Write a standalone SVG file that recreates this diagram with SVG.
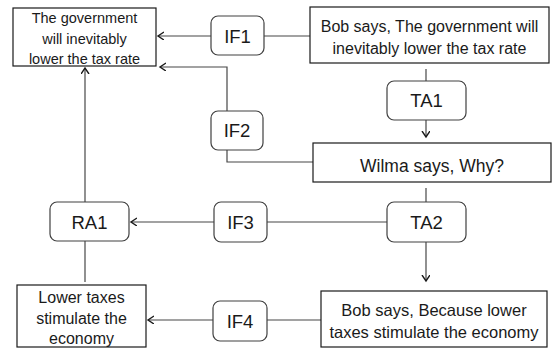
<svg xmlns="http://www.w3.org/2000/svg" width="553" height="349" viewBox="0 0 553 349">
<style>
.box{fill:#fff;stroke:#1a1a1a;stroke-width:1.2}
.rbox{fill:#fff;stroke:#404040;stroke-width:1.2}
.t{font-family:"Liberation Sans",Arial,sans-serif;fill:#1a1a1a;text-anchor:middle}
.lbl{font-size:18.5px}
.c{fill:none;stroke:#474747;stroke-width:1.2}
</style>
<defs>
<marker id="ah" markerWidth="10" markerHeight="10" refX="6" refY="4" orient="auto" markerUnits="userSpaceOnUse">
<path d="M0,0 L6,4 L0,8" fill="none" stroke="#1a1a1a" stroke-width="1.4"/>
</marker>
</defs>
<rect width="553" height="349" fill="#fff"/>
<g id="connectors">
<line class="c" x1="211" y1="36" x2="158" y2="36" marker-end="url(#ah)"/>
<line class="c" x1="264" y1="36" x2="310" y2="36"/>
<line class="c" x1="426" y1="69" x2="426" y2="81"/>
<polyline class="c" points="227,111 227,67 160,67" marker-end="url(#ah)"/>
<line class="c" x1="85" y1="202" x2="85" y2="68" marker-end="url(#ah)"/>
<line class="c" x1="426" y1="120" x2="426" y2="137" marker-end="url(#ah)"/>
<polyline class="c" points="227,150 227,162 313,162"/>
<line class="c" x1="426" y1="188" x2="426" y2="202"/>
<line class="c" x1="387" y1="222" x2="267" y2="222"/>
<line class="c" x1="214" y1="222" x2="131" y2="222" marker-end="url(#ah)"/>
<line class="c" x1="426" y1="242" x2="426" y2="281" marker-end="url(#ah)"/>
<line class="c" x1="85" y1="241" x2="85" y2="282"/>
<line class="c" x1="213" y1="320" x2="148" y2="320" marker-end="url(#ah)"/>
<line class="c" x1="267" y1="320" x2="321" y2="320"/>
</g>
<g id="claim">
<rect class="box" x="13" y="8" width="143" height="58"/>
<text class="t" font-size="14.5" x="84.5" y="23">The government</text>
<text class="t" font-size="14.5" x="84.5" y="43.5">will inevitably</text>
<text class="t" font-size="14.5" x="84.5" y="63.5">lower the tax rate</text>
</g>
<g id="IF1">
<rect class="rbox" x="211" y="16" width="53" height="39" rx="7"/>
<text class="t lbl" x="237.5" y="42.5">IF1</text>
</g>
<g id="bob1">
<rect class="box" x="310" y="7" width="239" height="56"/>
<text class="t" font-size="16" x="429.5" y="32">Bob says, The government will</text>
<text class="t" font-size="16" x="429.5" y="53.5">inevitably lower the tax rate</text>
</g>
<g id="TA1">
<rect class="rbox" x="387" y="81" width="79" height="39" rx="7"/>
<text class="t lbl" x="426.5" y="107">TA1</text>
</g>
<g id="IF2">
<rect class="rbox" x="211" y="111" width="52" height="39" rx="7"/>
<text class="t lbl" x="237" y="137">IF2</text>
</g>
<g id="wilma">
<rect class="box" x="313" y="143" width="238" height="39"/>
<text class="t" font-size="17.5" x="432" y="172">Wilma says, Why?</text>
</g>
<g id="RA1">
<rect class="rbox" x="50" y="202" width="79" height="39" rx="7"/>
<text class="t lbl" x="89.5" y="228.5">RA1</text>
</g>
<g id="IF3">
<rect class="rbox" x="214" y="202" width="53" height="40" rx="7"/>
<text class="t lbl" x="240.5" y="228.5">IF3</text>
</g>
<g id="TA2">
<rect class="rbox" x="387" y="202" width="79" height="40" rx="7"/>
<text class="t lbl" x="426.5" y="228.5">TA2</text>
</g>
<g id="reason">
<rect class="box" x="17" y="285" width="129" height="62"/>
<text class="t" font-size="16" x="81.5" y="303">Lower taxes</text>
<text class="t" font-size="16" x="81.5" y="323.5">stimulate the</text>
<text class="t" font-size="16" x="81.5" y="344">economy</text>
</g>
<g id="IF4">
<rect class="rbox" x="213" y="301" width="54" height="40" rx="7"/>
<text class="t lbl" x="240" y="327.5">IF4</text>
</g>
<g id="bob2">
<rect class="box" x="321" y="291" width="226" height="56"/>
<text class="t" font-size="16.5" x="434" y="316">Bob says, Because lower</text>
<text class="t" font-size="16.5" x="434" y="338">taxes stimulate the economy</text>
</g>
</svg>
